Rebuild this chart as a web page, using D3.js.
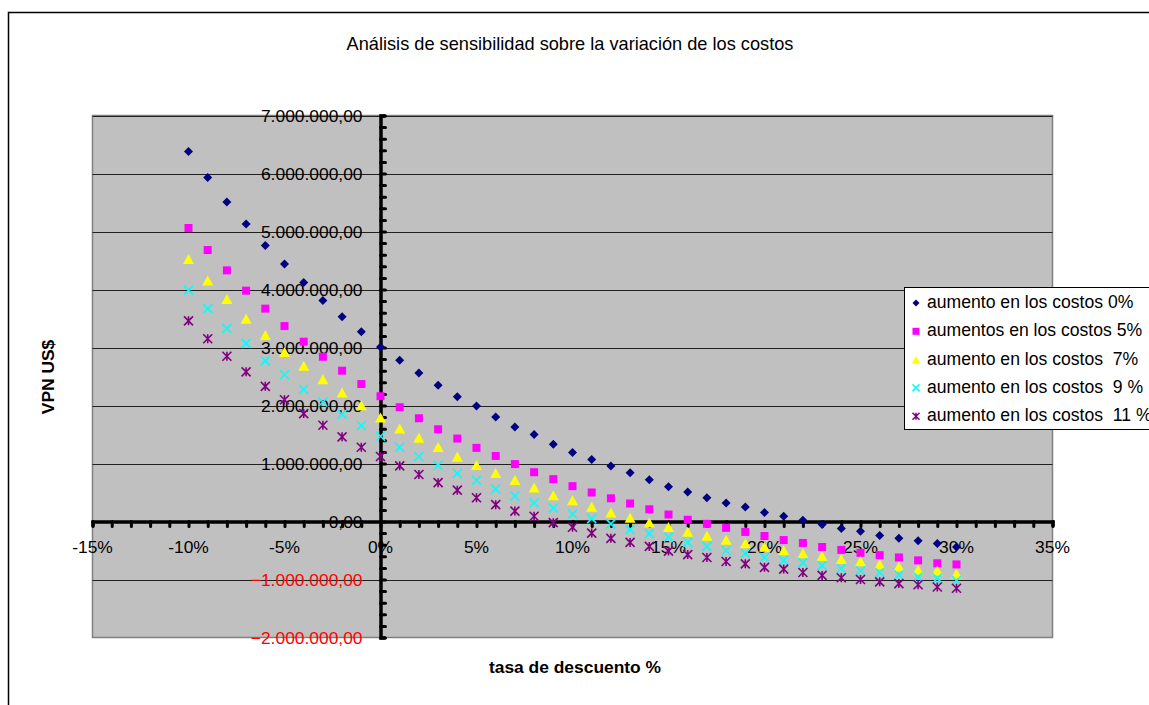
<!DOCTYPE html>
<html><head><meta charset="utf-8">
<script src="https://cdn.jsdelivr.net/npm/d3@7"></script>
<style>
html,body{margin:0;padding:0;background:#fff;}
svg{display:block;font-family:"Liberation Sans",Arial,sans-serif;}
.leg{white-space:pre;}
</style></head>
<body>
<svg id="chart" width="1149" height="705"></svg>
<script>
const title = "Análisis de sensibilidad sobre la variación de los costos";
const xTitle = "tasa de descuento %";
const yTitle = "VPN US$";
const rates = [-10,-9,-8,-7,-6,-5,-4,-3,-2,-1,0,1,2,3,4,5,6,7,8,9,10,11,12,13,14,15,16,17,18,19,20,21,22,23,24,25,26,27,28,29,30];
const seriesNames = ["aumento en los costos 0%","aumentos en los costos 5%","aumento en los costos  7%","aumento en los costos  9 %","aumento en los costos  11 %"];
// values in millions of US$
const s0 = [6.38,5.93,5.51,5.13,4.76,4.44,4.12,3.81,3.53,3.27,3.01,2.78,2.56,2.35,2.15,1.99,1.80,1.63,1.50,1.33,1.19,1.07,0.955,0.84,0.72,0.60,0.51,0.41,0.32,0.25,0.155,0.09,0.02,-0.05,-0.12,-0.17,-0.24,-0.29,-0.33,-0.38,-0.44];
const s5 = [5.06,4.68,4.33,3.98,3.67,3.37,3.10,2.84,2.60,2.37,2.16,1.97,1.78,1.59,1.43,1.27,1.13,0.99,0.85,0.73,0.61,0.50,0.40,0.31,0.21,0.12,0.03,-0.04,-0.11,-0.18,-0.25,-0.32,-0.37,-0.44,-0.49,-0.54,-0.58,-0.62,-0.67,-0.72,-0.74];
const s7 = [4.52,4.15,3.83,3.49,3.21,2.92,2.68,2.45,2.22,2.00,1.79,1.60,1.44,1.28,1.11,0.97,0.83,0.71,0.58,0.45,0.36,0.25,0.15,0.06,-0.02,-0.10,-0.18,-0.25,-0.32,-0.38,-0.44,-0.50,-0.55,-0.60,-0.65,-0.69,-0.74,-0.78,-0.83,-0.85,-0.90];
const s9 = [3.99,3.67,3.33,3.07,2.77,2.53,2.28,2.06,1.85,1.65,1.47,1.28,1.12,0.97,0.83,0.71,0.56,0.44,0.32,0.23,0.13,0.05,-0.04,-0.14,-0.21,-0.27,-0.36,-0.43,-0.50,-0.55,-0.62,-0.67,-0.71,-0.76,-0.81,-0.85,-0.88,-0.92,-0.96,-0.98,-1.02];
const s11 = [3.46,3.15,2.85,2.58,2.33,2.10,1.86,1.66,1.46,1.28,1.12,0.96,0.81,0.67,0.54,0.41,0.29,0.18,0.09,-0.02,-0.10,-0.20,-0.29,-0.36,-0.43,-0.51,-0.57,-0.62,-0.69,-0.73,-0.79,-0.82,-0.88,-0.93,-0.97,-1.00,-1.04,-1.07,-1.09,-1.13,-1.15];
const xTicks = [-15,-10,-5,0,5,10,15,20,25,30,35];
const yTicks = [-2e6,-1e6,0,1e6,2e6,3e6,4e6,5e6,6e6,7e6];

const colors = ["#000080","#FF00FF","#FFFF00","#00FFFF","#800080"];
const shapes = ["diamond","square","triangle","x","star"];
const allSeries = [s0,s5,s7,s9,s11];

const svg = d3.select("#chart");
const x = d3.scaleLinear().domain([-15,35]).range([92.5,1052.5]);
const y = d3.scaleLinear().domain([-2e6,7e6]).range([637.5,115.5]);

const loc = d3.formatLocale({decimal:",",thousands:".",grouping:[3],currency:["$",""]});
const fmt = loc.format(",.2f");

// outer frame
svg.append("path").attr("d","M8.5,705 L8.5,12.5 L1149,12.5").attr("fill","none").attr("stroke","#000").attr("stroke-width",1.5);

// plot area
svg.append("rect").attr("x",x(-15)).attr("y",y(7e6)).attr("width",x(35)-x(-15)).attr("height",y(-2e6)-y(7e6))
  .attr("fill","#C0C0C0").attr("stroke","#808080").attr("stroke-width",1.5);

// gridlines
svg.append("g").selectAll("line").data(yTicks.filter(v=>v!==0 && v!==-2e6)).join("line")
  .attr("x1",x(-15)).attr("x2",x(35)).attr("y1",d=>Math.round(y(d))+0.5).attr("y2",d=>Math.round(y(d))+0.5)
  .attr("stroke","#202020").attr("stroke-width",1);

// x axis (through y=0)
const xAxis = d3.axisBottom(x).tickValues(d3.range(-15,36,1)).tickSize(5).tickFormat("");
const gx = svg.append("g").attr("transform",`translate(0,${y(0)})`).call(xAxis);
gx.select(".domain").attr("stroke","#000").attr("stroke-width",3.5);
gx.selectAll(".tick line").attr("stroke","#000").attr("stroke-width",3).attr("stroke-linecap","round");

// y axis (through x=0)
const yAxis = d3.axisRight(y).tickValues(d3.range(-2e6,7.0001e6,2e5)).tickSize(5).tickFormat("");
const gy = svg.append("g").attr("transform",`translate(${x(0)},0)`).call(yAxis);
gy.select(".domain").attr("stroke","#000").attr("stroke-width",3.5);
gy.selectAll(".tick line").attr("stroke","#000").attr("stroke-width",3).attr("stroke-linecap","round");

// y tick labels
svg.append("g").selectAll("text").data(yTicks).join("text")
  .attr("x",x(0)-18).attr("y",d=>y(d)).attr("dy","0.35em").attr("text-anchor","end")
  .attr("font-size",17.4).attr("fill",d=>d<0?"#FF0000":"#000").text(d=>fmt(d));

// x tick labels
svg.append("g").selectAll("text").data(xTicks).join("text")
  .attr("x",d=>x(d)).attr("y",y(0)+25.5).attr("dy","0.35em").attr("text-anchor","middle")
  .attr("font-size",17.4).attr("fill","#000").text(d=>d+"%");

// symbol path generator
function symPath(shape, s){
  const h=s/2;
  switch(shape){
    case "diamond": return `M0,${-h}L${h},0L0,${h}L${-h},0Z`;
    case "square": return `M${-h},${-h}H${h}V${h}H${-h}Z`;
    case "triangle": return `M0,${-h*1.05}L${h*1.1},${h*0.95}L${-h*1.1},${h*0.95}Z`;
    case "x": return `M${-h},${-h}L${h},${h}M${h},${-h}L${-h},${h}`;
    case "star": return `M${-h},${-h}L${h},${h}M${h},${-h}L${-h},${h}M0,${-h}V${h}`;
  }
}
const sizes = [9,8,10,9,9];

allSeries.forEach((vals,i)=>{
  const g = svg.append("g");
  const data = rates.map((r,j)=>({r, v: vals[j]*1e6}));
  const line = shapes[i]==="x"||shapes[i]==="star";
  g.selectAll("path").data(data).join("path")
    .attr("transform",d=>`translate(${x(d.r)},${y(d.v)})`)
    .attr("d",symPath(shapes[i],sizes[i]))
    .attr("fill",line?"none":colors[i])
    .attr("stroke",line?colors[i]:"none")
    .attr("stroke-width",1.6);
});

// legend
const lg = svg.append("g");
lg.append("rect").attr("x",904.5).attr("y",287.5).attr("width",260).attr("height",142).attr("fill","#fff").attr("stroke","#000").attr("stroke-width",1);
seriesNames.forEach((n,i)=>{
  const cy = 302 + i*28.3;
  const line = shapes[i]==="x"||shapes[i]==="star";
  lg.append("path").attr("transform",`translate(916,${cy+1})`).attr("d",symPath(shapes[i],7))
    .attr("fill",line?"none":colors[i]).attr("stroke",line?colors[i]:"none").attr("stroke-width",1.5);
  lg.append("text").attr("class","leg").attr("x",927).attr("y",cy).attr("dy","0.35em").attr("font-size",17.6).text(n);
});

// titles
svg.append("text").attr("x",570).attr("y",44).attr("dy","0.35em").attr("text-anchor","middle").attr("font-size",18.2).text(title);
svg.append("text").attr("x",575).attr("y",667).attr("dy","0.35em").attr("text-anchor","middle").attr("font-size",17.4).attr("font-weight","bold").text(xTitle);
svg.append("text").attr("transform","translate(48,377) rotate(-90)").attr("dy","0.35em").attr("text-anchor","middle").attr("font-size",17.4).attr("font-weight","bold").text(yTitle);
</script>
</body></html>
